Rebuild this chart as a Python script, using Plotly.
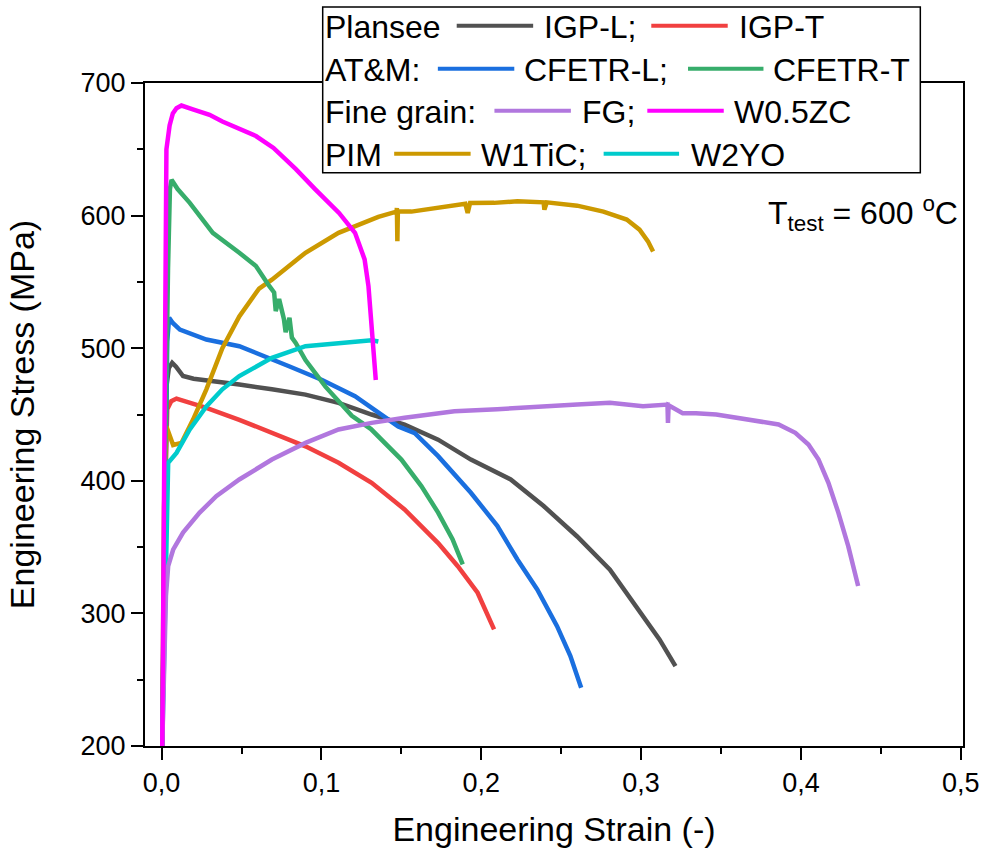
import plotly.graph_objects as go

# ---------------- data ----------------
igpl_x = [0.0004, 0.002, 0.003, 0.0045, 0.0066, 0.009, 0.0134, 0.02, 0.028, 0.0486, 0.069, 0.09,
          0.1107, 0.1314, 0.152, 0.173, 0.1935, 0.2184, 0.239, 0.26, 0.2805, 0.297, 0.3115, 0.3215]
igpl_y = [200, 400, 471, 485, 489, 486, 479, 477, 476, 472.6, 469, 465,
          458.8, 450, 442.4, 431, 416, 401, 381, 358, 333, 305.5, 280.4, 260.3]

igpt_x = [0.0004, 0.002, 0.0035, 0.006, 0.0093, 0.015, 0.028, 0.0486, 0.069, 0.09, 0.1107,
          0.1314, 0.152, 0.173, 0.1853, 0.1977, 0.208]
igpt_y = [200, 380, 454, 460, 462, 460, 455, 446, 436, 426, 413.6,
          398.5, 378.4, 353, 335.6, 315.6, 288]

cfl_x = [0.0004, 0.002, 0.0035, 0.0047, 0.007, 0.0114, 0.028, 0.0486, 0.065, 0.0797, 0.1004,
         0.121, 0.148, 0.1584, 0.173, 0.1935, 0.21, 0.2226, 0.235, 0.2474, 0.2557, 0.2625]
cfl_y = [200, 400, 505, 523, 519, 514, 506.5, 501.5, 494, 486.4, 476,
         463.8, 441, 436, 418.6, 391, 366, 340.7, 318, 290.4, 268, 244]

cft_x = [0.0004, 0.002, 0.004, 0.0052, 0.0062, 0.01, 0.0176, 0.032, 0.0486, 0.059, 0.0673,
         0.0704, 0.0714, 0.0735, 0.0765, 0.0776, 0.08, 0.0815, 0.0839, 0.09, 0.1025, 0.119,
         0.131, 0.15, 0.1625, 0.173, 0.182, 0.1884]
cft_y = [200, 400, 560, 620, 627, 620, 609.6, 587, 572, 562, 547,
         542, 528, 537, 522, 512, 523, 508, 504, 491, 471, 449,
         439, 416, 396, 376, 356, 337]

fg_x = [0.0004, 0.0027, 0.0041, 0.0072, 0.0134, 0.0238, 0.0342, 0.0486, 0.069, 0.09, 0.1107,
        0.1314, 0.152, 0.1832, 0.21, 0.2288, 0.26, 0.2805, 0.3012, 0.3165, 0.3168, 0.3172,
        0.326, 0.3343, 0.347, 0.3654, 0.386, 0.3965, 0.4047, 0.411, 0.4172, 0.4234, 0.4296, 0.4358]
fg_y = [200, 313, 335.6, 348, 361, 376, 388.4, 401, 416, 428.6, 438.7,
        443.7, 447.5, 452.5, 454, 455, 457.5, 458.8, 456.3, 457.5, 443.7, 457,
        451, 451, 450, 446.3, 442.5, 436.2, 427.4, 416, 398.5, 376, 350.7, 320.6]

w05_x = [0.0004, 0.0018, 0.003, 0.005, 0.007, 0.0093, 0.0124, 0.02, 0.03, 0.038, 0.05, 0.059,
         0.07, 0.084, 0.096, 0.111, 0.121, 0.127, 0.1294, 0.132, 0.134]
w05_y = [200, 430, 650, 668, 677, 681, 683, 680, 676, 671, 665, 660,
         651, 635, 620, 602, 587, 567, 547, 510, 476]

w1t_x = [0.0004, 0.0015, 0.003, 0.0045, 0.0072, 0.0124, 0.0196, 0.028, 0.038, 0.0486, 0.061,
         0.069, 0.09, 0.1107, 0.1314, 0.1356, 0.147, 0.1472, 0.1475, 0.1478, 0.1563, 0.177,
         0.19, 0.1915, 0.193, 0.208, 0.2226, 0.239, 0.2395, 0.241, 0.26, 0.2764, 0.291, 0.299,
         0.3043, 0.3075]
w1t_y = [200, 380, 441, 436, 427, 428.6, 446, 469, 500, 524, 545,
         551.7, 572, 587, 597, 599, 603, 605.8, 580.6, 603, 603, 607,
         609, 602, 609.5, 609.6, 610.8, 610, 604.5, 610, 607.5, 603, 597, 589.4,
         580.6, 573]

w2y_x = [0.0004, 0.0027, 0.0041, 0.0093, 0.0176, 0.028, 0.038, 0.0486, 0.059, 0.069, 0.09,
         0.1107, 0.1314, 0.1356]
w2y_y = [200, 356, 413.6, 421, 438.7, 456, 469, 479, 486.4, 492.7, 501.5,
         504, 506, 505]

x_ticks = [0.0, 0.1, 0.2, 0.3, 0.4, 0.5]
y_ticks = [200, 300, 400, 500, 600, 700]

# ---------------- styles ----------------
FONT = "Liberation Sans, Arial, sans-serif"
C = {
    "IGP-L": "#515151", "IGP-T": "#F14040", "CFETR-L": "#1A6FDF", "CFETR-T": "#37AD6B",
    "FG": "#B177DE", "W0.5ZC": "#FF00FF", "W1TiC": "#CC9900", "W2YO": "#00CBCC",
}

series = [
    ("IGP-L", igpl_x, igpl_y), ("IGP-T", igpt_x, igpt_y),
    ("CFETR-L", cfl_x, cfl_y), ("W1TiC", w1t_x, w1t_y),
    ("CFETR-T", cft_x, cft_y), ("W2YO", w2y_x, w2y_y),
    ("FG", fg_x, fg_y), ("W0.5ZC", w05_x, w05_y),
]

fig = go.Figure()
for name, xs, ys in series:
    fig.add_trace(go.Scatter(x=xs, y=ys, mode="lines", name=name,
                             line=dict(color=C[name], width=4.5), showlegend=False))

# plot-area geometry in pixels
W, H = 992, 854
L, R, T, B = 145, 969, 83.3, 746.7


def px(xp):
    return (xp - L) / (R - L)


def py(yp):
    return (B - yp) / (B - T)


shapes = [dict(type="rect", xref="paper", yref="paper", x0=px(324), x1=px(926),
               y0=py(173), y1=py(7.3), fillcolor="white",
               line=dict(color="black", width=1.5), layer="above")]
annotations = []

# custom legend: (row y px, items)
legend_rows = [
    (26, [("t", 326, "Plansee"), ("l", 459, 536, "IGP-L"), ("t", 547, "IGP-L;"),
          ("l", 655, 732, "IGP-T"), ("t", 743, "IGP-T")]),
    (69, [("t", 326, "AT&M:"), ("l", 440, 517, "CFETR-L"), ("t", 527, "CFETR-L;"),
          ("l", 692, 768, "CFETR-T"), ("t", 778, "CFETR-T")]),
    (111, [("t", 326, "Fine grain:"), ("l", 497, 574, "FG"), ("t", 585, "FG;"),
           ("l", 651, 728, "W0.5ZC"), ("t", 738, "W0.5ZC")]),
    (154, [("t", 326, "PIM"), ("l", 396, 473, "W1TiC"), ("t", 483, "W1TiC;"),
           ("l", 607, 683, "W2YO"), ("t", 695, "W2YO")]),
]
for ry, items in legend_rows:
    for it in items:
        if it[0] == "l":
            shapes.append(dict(type="line", xref="paper", yref="paper",
                               x0=px(it[1]), x1=px(it[2]), y0=py(ry), y1=py(ry),
                               line=dict(color=C[it[3]], width=4), layer="above"))
        else:
            annotations.append(dict(xref="paper", yref="paper", x=px(it[1] - 2), y=py(ry + 1),
                                    xanchor="left", yanchor="middle", showarrow=False,
                                    text=it[2], font=dict(family=FONT, size=32, color="black")))

annotations.append(dict(xref="paper", yref="paper", x=px(966), y=py(214),
                        xanchor="right", yanchor="middle", showarrow=False,
                        text="T<sub>test</sub> = 600 <sup>o</sup>C",
                        font=dict(family=FONT, size=32, color="black")))

axis_common = dict(showgrid=False, zeroline=False, showline=True, linecolor="black",
                   linewidth=2, mirror=True, ticks="outside", ticklen=12, tickwidth=2,
                   tickcolor="black", tickfont=dict(family=FONT, size=27, color="black"))

fig.update_layout(
    width=W, height=H, plot_bgcolor="white", paper_bgcolor="white",
    margin=dict(l=L, r=W - R, t=T, b=H - B),
    separators=", ",
    shapes=shapes, annotations=annotations,
    xaxis=dict(range=[-0.0104, 0.5014], tickvals=x_ticks, tickformat=".1f",
               minor=dict(dtick=0.05, tick0=0, ticks="outside", ticklen=6, tickwidth=2,
                          tickcolor="black"),
               title=dict(text="Engineering Strain (-)", standoff=20,
                          font=dict(family=FONT, size=34, color="black")),
               **axis_common),
    yaxis=dict(range=[200, 700], tickvals=y_ticks,
               minor=dict(dtick=50, tick0=0, ticks="outside", ticklen=6, tickwidth=2,
                          tickcolor="black"),
               title=dict(text="Engineering Stress (MPa)", standoff=36,
                          font=dict(family=FONT, size=34, color="black")),
               **axis_common),
)

fig.write_html("out.html", config={"displayModeBar": False},
               post_script="document.body.style.margin='0px';document.body.style.padding='0px';")
